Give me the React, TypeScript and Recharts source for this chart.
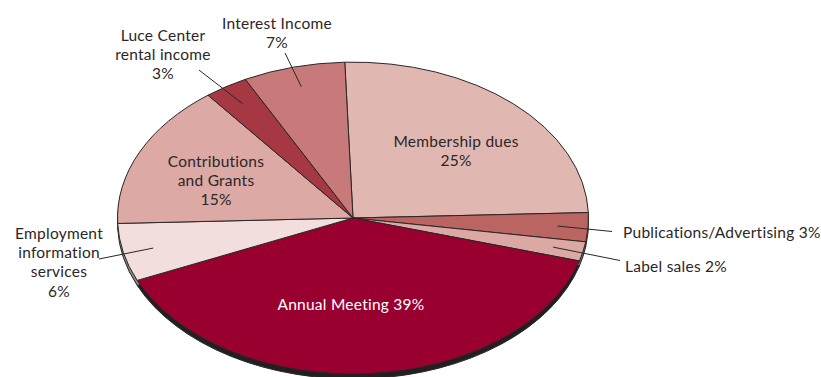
import { Pie, PieChart } from "recharts";

const categories = [
  "Membership dues",
  "Publications/Advertising",
  "Label sales",
  "Annual Meeting",
  "Employment information services",
  "Contributions and Grants",
  "Luce Center rental income",
  "Interest Income",
];
const shares = [25, 3, 2, 39, 6, 15, 3, 7];

const topColors = ["#e0b7b1", "#bb6563", "#dba8a3", "#990030", "#f2dedc", "#dca9a5", "#a63843", "#c77a79"];
const rimColors = ["#6d6869", "#6d6869", "#6d6869", "#231f20", "#8a8586", "#6d6869", "#6d6869", "#6d6869"];

// text blocks; "{p}" is replaced with the slice share
const labelLines = [
  ["Membership dues", "{p}"],
  ["Publications/Advertising {p}"],
  ["Label sales {p}"],
  ["Annual Meeting {p}"],
  ["Employment", "information", "services", "{p}"],
  ["Contributions", "and Grants", "{p}"],
  ["Luce Center", "rental income", "{p}"],
  ["Interest Income", "{p}"],
];

type Placement = { x: number; y: number; anchor: "middle" | "start"; color?: string; leader?: [number, number] };
const placements: Placement[] = [
  { x: 456, y: 141, anchor: "middle" },
  { x: 623, y: 232, anchor: "start", leader: [612, 231.5] },
  { x: 625, y: 266, anchor: "start", leader: [620, 260.5] },
  { x: 351, y: 304, anchor: "middle", color: "#ffffff" },
  { x: 59, y: 233, anchor: "middle", leader: [99, 259] },
  { x: 216, y: 161, anchor: "middle" },
  { x: 163, y: 35, anchor: "middle", leader: [199, 70] },
  { x: 277, y: 23, anchor: "middle", leader: [285, 53] },
];

const W = 821;
const H = 377;
const CX = 353;
const CY = 218;
const RX = 235.5;
const SQUASH = 0.662; // vertical/horizontal ratio of the tilted disc
const DEPTH = 5;
const LINE_H = 19.2;
const INK = "#2b2627";
const RAD = Math.PI / 180;

const data = categories.map((name, i) => ({
  name,
  value: shares[i],
  fill: topColors[i],
  rim: rimColors[i],
}));

function ellipsePoint(cx: number, cy: number, rx: number, a: number, k = 1) {
  return [cx + k * rx * Math.cos(a * RAD), cy - k * rx * SQUASH * Math.sin(a * RAD)];
}

function wedgePath(cx: number, cy: number, rx: number, a0: number, a1: number) {
  const ry = rx * SQUASH;
  const [x0, y0] = ellipsePoint(cx, cy, rx, a0);
  const [x1, y1] = ellipsePoint(cx, cy, rx, a1);
  const large = Math.abs(a0 - a1) > 180 ? 1 : 0;
  const sweep = a1 < a0 ? 1 : 0;
  return `M${cx},${cy}L${x0},${y0}A${rx},${ry} 0 ${large} ${sweep} ${x1},${y1}Z`;
}

function TopWedge(props: any) {
  const { cx, cy, outerRadius, startAngle, endAngle, fill } = props;
  return (
    <path
      d={wedgePath(cx, cy, outerRadius, startAngle, endAngle)}
      fill={fill}
      stroke={INK}
      strokeWidth={1}
      strokeLinejoin="round"
    />
  );
}

function RimWedge(props: any) {
  const { cx, cy, outerRadius, startAngle, endAngle, payload } = props;
  return (
    <path
      d={wedgePath(cx, cy + DEPTH, outerRadius, startAngle, endAngle)}
      fill={payload?.rim ?? "#231f20"}
      stroke={INK}
      strokeWidth={1}
    />
  );
}

function SliceLabel(props: any) {
  const { index, cx, cy, outerRadius, midAngle, value } = props;
  const place = placements[index];
  const lines = labelLines[index].map((s) => s.replace("{p}", `${value}%`));
  const start = ellipsePoint(cx, cy, outerRadius, midAngle, 0.87);
  return (
    <g>
      {place.leader && (
        <line x1={start[0]} y1={start[1]} x2={place.leader[0]} y2={place.leader[1]} stroke={INK} strokeWidth={1} />
      )}
      <text
        x={place.x}
        y={place.y}
        textAnchor={place.anchor}
        fill={place.color ?? INK}
        fontFamily="Lato, 'Open Sans', sans-serif"
        fontSize={15.5}
        letterSpacing={0.25}
      >
        {lines.map((line, i) => (
          <tspan key={i} x={place.x} y={place.y + i * LINE_H} dominantBaseline="central">
            {line}
          </tspan>
        ))}
      </text>
    </g>
  );
}

export default function App() {
  return (
    <div style={{ position: "absolute", left: 0, top: 0, width: W, height: H, background: "#fff" }}>
      <PieChart width={W} height={H} margin={{ top: 0, right: 0, bottom: 0, left: 0 }}>
        <Pie
          data={data}
          dataKey="value"
          nameKey="name"
          cx={CX}
          cy={CY}
          outerRadius={RX}
          startAngle={92}
          endAngle={-268}
          shape={RimWedge}
          isAnimationActive={false}
        />
        <Pie
          data={data}
          dataKey="value"
          nameKey="name"
          cx={CX}
          cy={CY}
          outerRadius={RX}
          startAngle={92}
          endAngle={-268}
          shape={TopWedge}
          label={SliceLabel}
          labelLine={false}
          isAnimationActive={false}
        />
      </PieChart>
    </div>
  );
}
